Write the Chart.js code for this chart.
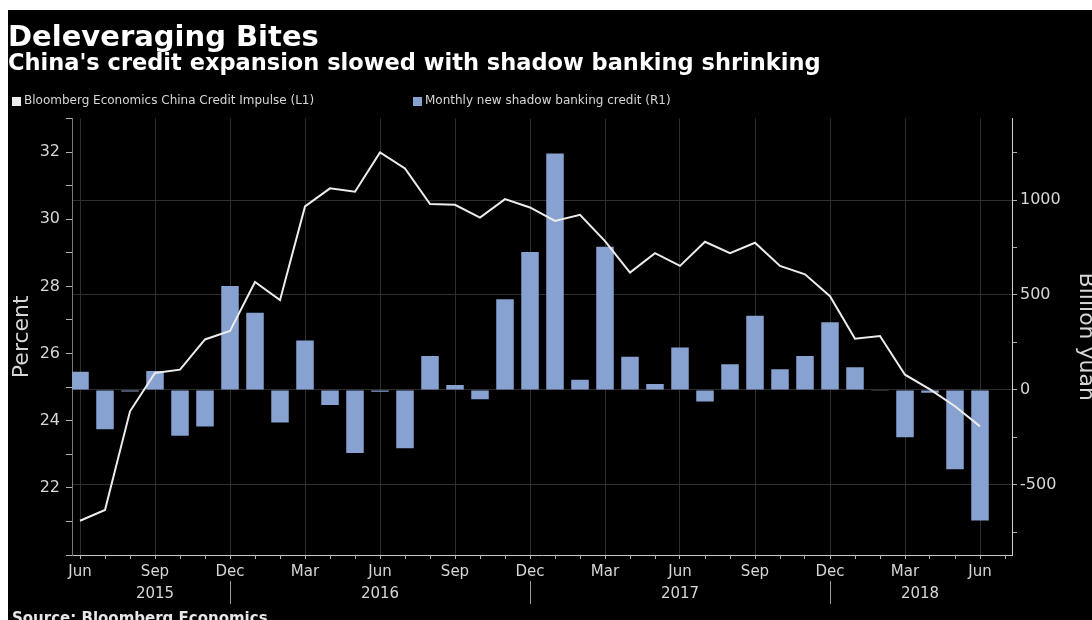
<!DOCTYPE html>
<html>
<head>
<meta charset="utf-8">
<script src="https://cdn.jsdelivr.net/npm/chart.js@4.4.1/dist/chart.umd.min.js"></script>
<style>
  html, body { margin: 0; padding: 0; background: #fff; overflow: hidden; }
  #wrap { position: absolute; left: 8px; top: 10px; width: 1084px; height: 610px; background: #000; }
</style>
</head>
<body>
<div id="wrap"><canvas id="chart" width="1084" height="610"></canvas></div>
<script>
// Monthly data, Jun 2015 .. Jun 2018
const months = [
  '2015-06', '2015-07', '2015-08', '2015-09', '2015-10', '2015-11', '2015-12',
  '2016-01', '2016-02', '2016-03', '2016-04', '2016-05', '2016-06', '2016-07', '2016-08', '2016-09', '2016-10', '2016-11', '2016-12',
  '2017-01', '2017-02', '2017-03', '2017-04', '2017-05', '2017-06', '2017-07', '2017-08', '2017-09', '2017-10', '2017-11', '2017-12',
  '2018-01', '2018-02', '2018-03', '2018-04', '2018-05', '2018-06'
];
const creditImpulse = [
  21.02, 21.34, 24.28, 25.42, 25.52, 26.42, 26.67,
  28.13, 27.59, 30.38, 30.92, 30.82, 31.99, 31.51, 30.45, 30.43, 30.05, 30.60, 30.35,
  29.95, 30.13, 29.35, 28.41, 28.99, 28.61, 29.33, 28.99, 29.30, 28.61, 28.36, 27.71,
  26.44, 26.52, 25.37, 24.93, 24.43, 23.83
];
const shadowCredit = [
  95, -207, -8, 100, -242, -193, 547,
  407, -172, 260, -79, -333, -10, -307, 179, 26, -49, 477, 726,
  1245, 53, 754, 175, 31, 224, -61, 135, 391, 109, 179, 356,
  119, -5, -249, -15, -418, -688
];
const monthNames = ['Jan', 'Feb', 'Mar', 'Apr', 'May', 'Jun', 'Jul', 'Aug', 'Sep', 'Oct', 'Nov', 'Dec'];
const yearTicks = [3, 6, 12, 18, 24, 30, 33.6];
const yearLabels = ['2015', '', '2016', '', '2017', '', '2018'];
const yearSeparators = [6, 18, 30];
const leftTicks = [20, 21, 22, 23, 24, 25, 26, 27, 28, 29, 30, 31, 32, 33];
const rightTicks = [-750, -500, -250, 0, 250, 500, 750, 1000, 1250];

const titleText = 'Deleveraging Bites';
const subtitleText = "China's credit expansion slowed with shadow banking shrinking";
const sourceText = 'Source: Bloomberg Economics';

const gridColor = '#2e2e2e';
const tickColor = '#b0b0b0';
const textColor = '#d6d6d6';
const barColor = '#87a2d0';
const lineColor = '#ececec';

Chart.defaults.font.family = '"DejaVu Sans", Verdana, sans-serif';
Chart.defaults.color = textColor;

function monthLabel(i) {
  const m = parseInt(months[0].slice(5), 10) - 1;
  return monthNames[(m + i) % 12];
}

// legend and source line drawn by hand so they sit where the original has them
const extrasPlugin = {
  id: 'extras',
  afterDraw(chart) {
    const c = chart.ctx;
    c.save();
    c.font = '12px "DejaVu Sans"';
    c.textBaseline = 'middle';
    const legendX = [4, 405];
    chart.data.datasets.forEach((ds, i) => {
      c.fillStyle = ds.type === 'line' ? lineColor : barColor;
      c.fillRect(legendX[i], 87, 9, 9);
      c.fillStyle = textColor;
      c.fillText(ds.label, legendX[i] + 12, 91);
    });
    c.font = 'bold 15px "DejaVu Sans"';
    c.fillStyle = '#e6e6e6';
    c.textBaseline = 'alphabetic';
    c.fillText(sourceText, 4, 613);
    c.restore();
  }
};

new Chart(document.getElementById('chart'), {
  type: 'bar',
  data: {
    datasets: [
      {
        type: 'line',
        label: 'Bloomberg Economics China Credit Impulse (L1)',
        data: creditImpulse.map((v, i) => ({ x: i, y: v })),
        borderColor: lineColor,
        backgroundColor: lineColor,
        borderWidth: 2,
        pointRadius: 0,
        tension: 0,
        xAxisID: 'x',
        yAxisID: 'y',
        order: 0
      },
      {
        type: 'bar',
        label: 'Monthly new shadow banking credit (R1)',
        data: shadowCredit.map((v, i) => ({ x: i, y: v })),
        backgroundColor: barColor,
        borderWidth: 0,
        barPercentage: 0.7,
        categoryPercentage: 1,
        xAxisID: 'x',
        yAxisID: 'y1',
        order: 1
      }
    ]
  },
  options: {
    responsive: false,
    animation: false,
    layout: { padding: { left: 0, right: 0, top: 0, bottom: 17 } },
    plugins: {
      legend: { display: false },
      tooltip: { enabled: false },
      title: {
        display: true,
        text: titleText,
        align: 'start',
        color: '#ffffff',
        font: { size: 29, weight: 'bold', lineHeight: 1 },
        padding: { top: 14, bottom: 0 }
      },
      subtitle: {
        display: true,
        text: subtitleText,
        align: 'start',
        color: '#ffffff',
        font: { size: 22.5, weight: 'bold', lineHeight: 1 },
        padding: { top: 0, bottom: 43 }
      }
    },
    scales: {
      x: {
        type: 'linear',
        position: 'bottom',
        min: -0.32,
        max: 37.28,
        offset: false,
        afterBuildTicks: s => {
          s.ticks = months.map((m, i) => ({ value: i })).concat([{ value: months.length }]);
        },
        afterFit: s => { s.height = 26; },
        ticks: {
          autoSkip: false,
          maxRotation: 0,
          padding: 4,
          color: textColor,
          font: { size: 15 },
          callback: v => (v % 3 === 0 ? monthLabel(v) : '')
        },
        grid: {
          offset: false,
          color: ctx => (ctx.tick && ctx.tick.value % 3 === 0 ? gridColor : 'rgba(0,0,0,0)'),
          tickColor: tickColor,
          tickLength: 4
        },
        border: { color: '#c8c8c8' }
      },
      x2: {
        type: 'linear',
        position: 'bottom',
        min: -0.32,
        max: 37.28,
        offset: false,
        afterBuildTicks: s => {
          s.ticks = yearTicks.map(v => ({ value: v }));
        },
        afterFit: s => { s.height = 22; },
        ticks: {
          autoSkip: false,
          maxRotation: 0,
          padding: -19,
          color: textColor,
          font: { size: 15 },
          callback: (v, i) => yearLabels[i]
        },
        grid: {
          offset: false,
          drawOnChartArea: false,
          tickLength: 23,
          color: ctx => (ctx.tick && yearSeparators.includes(ctx.tick.value) ? '#9a9a9a' : 'rgba(0,0,0,0)')
        },
        border: { display: false }
      },
      y: {
        position: 'left',
        min: 20,
        max: 33,
        afterBuildTicks: s => {
          s.ticks = leftTicks.map(v => ({ value: v }));
        },
        afterFit: s => { s.width = 64; },
        ticks: {
          padding: 6,
          color: textColor,
          font: { size: 16 },
          callback: v => (v % 2 === 0 && v >= 22 && v <= 32 ? String(v) : '')
        },
        grid: { drawOnChartArea: false, tickColor: tickColor, tickLength: 6 },
        border: { color: '#7a7a7a' },
        title: {
          display: true,
          text: 'Percent',
          color: textColor,
          font: { size: 22 },
          padding: { top: 1, bottom: 0 }
        }
      },
      y1: {
        position: 'right',
        min: -870,
        max: 1430,
        afterBuildTicks: s => {
          s.ticks = rightTicks.map(v => ({ value: v }));
        },
        afterFit: s => { s.width = 80; },
        ticks: {
          padding: 3,
          color: textColor,
          font: { size: 16 },
          callback: v => (v % 500 === 0 ? String(v) : '')
        },
        grid: {
          color: ctx => (ctx.tick && ctx.tick.value % 500 === 0 ? gridColor : 'rgba(0,0,0,0)'),
          tickColor: tickColor,
          tickLength: 5
        },
        border: { color: '#d0d0d0' },
        title: {
          display: true,
          text: 'Billion yuan',
          color: textColor,
          font: { size: 22, lineHeight: 0.6 },
          padding: 0
        }
      }
    }
  },
  plugins: [extrasPlugin]
});
</script>
</body>
</html>
